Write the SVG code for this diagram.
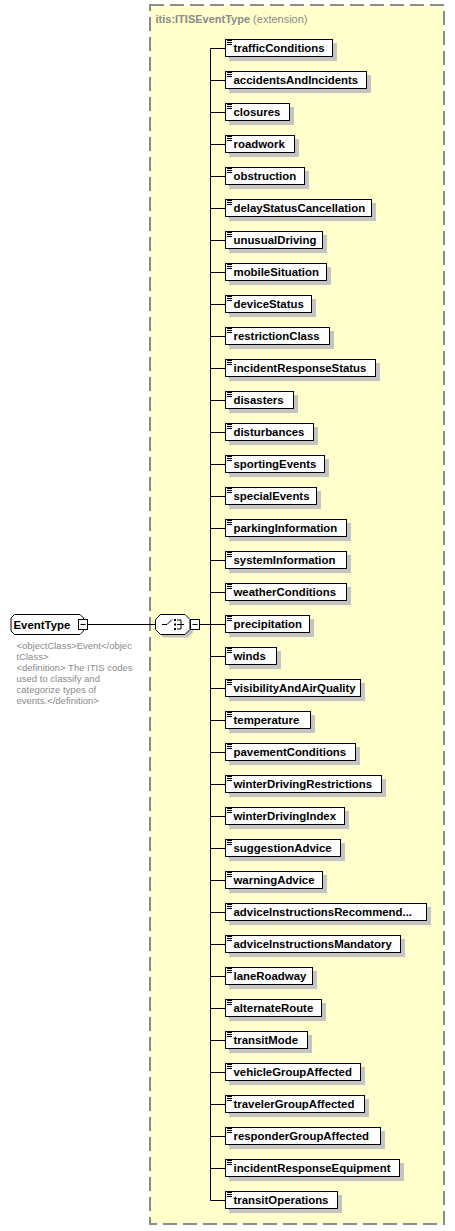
<svg xmlns="http://www.w3.org/2000/svg" xmlns:xlink="http://www.w3.org/1999/xlink" width="455" height="1231" viewBox="0 0 455 1231">
<style>
.lbl{font-family:"Liberation Sans",Arial,sans-serif;font-weight:bold;font-size:11.4px;fill:#000}
.box{fill:#fff;stroke:#000;stroke-width:1}
.shd{fill:#c4c4c4}
.ann{font-family:"Liberation Sans",Arial,sans-serif;font-size:9.5px;fill:#8a8a8a}
.hdr{font-family:"Liberation Sans",Arial,sans-serif;font-size:11px;fill:#8a8a8a}
.con{stroke:#000;stroke-width:1;fill:none}
</style>
<defs>
<path id="ico" d="M2 1.5h5M2 3.5h5M2 5.5h5" stroke="#000" stroke-width="1" fill="none"/>
</defs>
<rect x="150" y="5" width="294" height="1219" fill="#ffffcc" stroke="#8c8c8c" stroke-width="2" stroke-dasharray="14 6"/>
<text x="155.5" y="22.5" class="hdr"><tspan font-weight="bold">itis:ITISEventType</tspan> (extension)</text>

<g id="connectors" class="con">
<path d="M88 624.5H155.5M200 624.5H210.5M210.5 48.5V1200.5"/>
<path d="M210.5 48.5H225M210.5 80.5H225M210.5 112.5H225M210.5 144.5H225M210.5 176.5H225M210.5 208.5H225M210.5 240.5H225M210.5 272.5H225M210.5 304.5H225M210.5 336.5H225M210.5 368.5H225M210.5 400.5H225M210.5 432.5H225M210.5 464.5H225M210.5 496.5H225M210.5 528.5H225M210.5 560.5H225M210.5 592.5H225M210.5 624.5H225M210.5 656.5H225M210.5 688.5H225M210.5 720.5H225M210.5 752.5H225M210.5 784.5H225M210.5 816.5H225M210.5 848.5H225M210.5 880.5H225M210.5 912.5H225M210.5 944.5H225M210.5 976.5H225M210.5 1008.5H225M210.5 1040.5H225M210.5 1072.5H225M210.5 1104.5H225M210.5 1136.5H225M210.5 1168.5H225M210.5 1200.5H225"/>
</g>

<g id="EventType">
<polygon points="14.5,614.5 80,614.5 83.5,618 83.5,631 80,634.5 14.5,634.5 11,631 11,618" class="box"/>
<text x="13.5" y="628.5" class="lbl">EventType</text>
<rect x="78.5" y="619.5" width="9" height="10" class="box"/>
<path d="M80.5 624.5h5" class="con"/>
<text class="ann"><tspan x="16.5" y="648.5">&lt;objectClass&gt;Event&lt;/objec</tspan><tspan x="16.5" y="659.5">tClass&gt;</tspan><tspan x="16.5" y="670.5">&lt;definition&gt; The ITIS codes</tspan><tspan x="16.5" y="681.5">used to classify and</tspan><tspan x="16.5" y="692.5">categorize types of</tspan><tspan x="16.5" y="703.5">events.&lt;/definition&gt;</tspan></text>
</g>

<g id="choice">
<polygon points="163.5,617.5 188,617.5 193,622.5 193,632.5 188,637.5 163.5,637.5 158.5,632.5 158.5,622.5" class="shd"/>
<polygon points="160.5,614.5 185,614.5 190,619.5 190,629.5 185,634.5 160.5,634.5 155.5,629.5 155.5,619.5" class="box"/>
<path d="M162 624.5h5l5-5M177 620h4v9h-4M177 624.5h7" class="con"/>
<rect x="174" y="619" width="2" height="2"/>
<rect x="174" y="623.5" width="2" height="2"/>
<rect x="174" y="628" width="2" height="2"/>
<rect x="190.5" y="619.5" width="9" height="10" class="box"/>
<path d="M192.5 624.5h5" class="con"/>
</g>

<g id="n01" transform="translate(225,39)"><rect x="4" y="4" width="108" height="18" class="shd"/><rect x="0.5" y="0.5" width="107" height="17" class="box"/><use xlink:href="#ico"/><text x="8.5" y="12.5" class="lbl">trafficConditions</text></g>
<g id="n02" transform="translate(225,71)"><rect x="4" y="4" width="142" height="18" class="shd"/><rect x="0.5" y="0.5" width="141" height="17" class="box"/><use xlink:href="#ico"/><text x="8.5" y="12.5" class="lbl">accidentsAndIncidents</text></g>
<g id="n03" transform="translate(225,103)"><rect x="4" y="4" width="65" height="18" class="shd"/><rect x="0.5" y="0.5" width="64" height="17" class="box"/><use xlink:href="#ico"/><text x="8.5" y="12.5" class="lbl">closures</text></g>
<g id="n04" transform="translate(225,135)"><rect x="4" y="4" width="70" height="18" class="shd"/><rect x="0.5" y="0.5" width="69" height="17" class="box"/><use xlink:href="#ico"/><text x="8.5" y="12.5" class="lbl">roadwork</text></g>
<g id="n05" transform="translate(225,167)"><rect x="4" y="4" width="80" height="18" class="shd"/><rect x="0.5" y="0.5" width="79" height="17" class="box"/><use xlink:href="#ico"/><text x="8.5" y="12.5" class="lbl">obstruction</text></g>
<g id="n06" transform="translate(225,199)"><rect x="4" y="4" width="147" height="18" class="shd"/><rect x="0.5" y="0.5" width="146" height="17" class="box"/><use xlink:href="#ico"/><text x="8.5" y="12.5" class="lbl">delayStatusCancellation</text></g>
<g id="n07" transform="translate(225,231)"><rect x="4" y="4" width="98" height="18" class="shd"/><rect x="0.5" y="0.5" width="97" height="17" class="box"/><use xlink:href="#ico"/><text x="8.5" y="12.5" class="lbl">unusualDriving</text></g>
<g id="n08" transform="translate(225,263)"><rect x="4" y="4" width="102" height="18" class="shd"/><rect x="0.5" y="0.5" width="101" height="17" class="box"/><use xlink:href="#ico"/><text x="8.5" y="12.5" class="lbl">mobileSituation</text></g>
<g id="n09" transform="translate(225,295)"><rect x="4" y="4" width="87" height="18" class="shd"/><rect x="0.5" y="0.5" width="86" height="17" class="box"/><use xlink:href="#ico"/><text x="8.5" y="12.5" class="lbl">deviceStatus</text></g>
<g id="n10" transform="translate(225,327)"><rect x="4" y="4" width="105" height="18" class="shd"/><rect x="0.5" y="0.5" width="104" height="17" class="box"/><use xlink:href="#ico"/><text x="8.5" y="12.5" class="lbl">restrictionClass</text></g>
<g id="n11" transform="translate(225,359)"><rect x="4" y="4" width="151" height="18" class="shd"/><rect x="0.5" y="0.5" width="150" height="17" class="box"/><use xlink:href="#ico"/><text x="8.5" y="12.5" class="lbl">incidentResponseStatus</text></g>
<g id="n12" transform="translate(225,391)"><rect x="4" y="4" width="69" height="18" class="shd"/><rect x="0.5" y="0.5" width="68" height="17" class="box"/><use xlink:href="#ico"/><text x="8.5" y="12.5" class="lbl">disasters</text></g>
<g id="n13" transform="translate(225,423)"><rect x="4" y="4" width="89" height="18" class="shd"/><rect x="0.5" y="0.5" width="88" height="17" class="box"/><use xlink:href="#ico"/><text x="8.5" y="12.5" class="lbl">disturbances</text></g>
<g id="n14" transform="translate(225,455)"><rect x="4" y="4" width="100" height="18" class="shd"/><rect x="0.5" y="0.5" width="99" height="17" class="box"/><use xlink:href="#ico"/><text x="8.5" y="12.5" class="lbl">sportingEvents</text></g>
<g id="n15" transform="translate(225,487)"><rect x="4" y="4" width="92" height="18" class="shd"/><rect x="0.5" y="0.5" width="91" height="17" class="box"/><use xlink:href="#ico"/><text x="8.5" y="12.5" class="lbl">specialEvents</text></g>
<g id="n16" transform="translate(225,519)"><rect x="4" y="4" width="122" height="18" class="shd"/><rect x="0.5" y="0.5" width="121" height="17" class="box"/><use xlink:href="#ico"/><text x="8.5" y="12.5" class="lbl">parkingInformation</text></g>
<g id="n17" transform="translate(225,551)"><rect x="4" y="4" width="122" height="18" class="shd"/><rect x="0.5" y="0.5" width="121" height="17" class="box"/><use xlink:href="#ico"/><text x="8.5" y="12.5" class="lbl">systemInformation</text></g>
<g id="n18" transform="translate(225,583)"><rect x="4" y="4" width="122" height="18" class="shd"/><rect x="0.5" y="0.5" width="121" height="17" class="box"/><use xlink:href="#ico"/><text x="8.5" y="12.5" class="lbl">weatherConditions</text></g>
<g id="n19" transform="translate(225,615)"><rect x="4" y="4" width="85" height="18" class="shd"/><rect x="0.5" y="0.5" width="84" height="17" class="box"/><use xlink:href="#ico"/><text x="8.5" y="12.5" class="lbl">precipitation</text></g>
<g id="n20" transform="translate(225,647)"><rect x="4" y="4" width="52" height="18" class="shd"/><rect x="0.5" y="0.5" width="51" height="17" class="box"/><use xlink:href="#ico"/><text x="8.5" y="12.5" class="lbl">winds</text></g>
<g id="n21" transform="translate(225,679)"><rect x="4" y="4" width="136" height="18" class="shd"/><rect x="0.5" y="0.5" width="135" height="17" class="box"/><use xlink:href="#ico"/><text x="8.5" y="12.5" class="lbl">visibilityAndAirQuality</text></g>
<g id="n22" transform="translate(225,711)"><rect x="4" y="4" width="86" height="18" class="shd"/><rect x="0.5" y="0.5" width="85" height="17" class="box"/><use xlink:href="#ico"/><text x="8.5" y="12.5" class="lbl">temperature</text></g>
<g id="n23" transform="translate(225,743)"><rect x="4" y="4" width="131" height="18" class="shd"/><rect x="0.5" y="0.5" width="130" height="17" class="box"/><use xlink:href="#ico"/><text x="8.5" y="12.5" class="lbl">pavementConditions</text></g>
<g id="n24" transform="translate(225,775)"><rect x="4" y="4" width="157" height="18" class="shd"/><rect x="0.5" y="0.5" width="156" height="17" class="box"/><use xlink:href="#ico"/><text x="8.5" y="12.5" class="lbl">winterDrivingRestrictions</text></g>
<g id="n25" transform="translate(225,807)"><rect x="4" y="4" width="120" height="18" class="shd"/><rect x="0.5" y="0.5" width="119" height="17" class="box"/><use xlink:href="#ico"/><text x="8.5" y="12.5" class="lbl">winterDrivingIndex</text></g>
<g id="n26" transform="translate(225,839)"><rect x="4" y="4" width="116" height="18" class="shd"/><rect x="0.5" y="0.5" width="115" height="17" class="box"/><use xlink:href="#ico"/><text x="8.5" y="12.5" class="lbl">suggestionAdvice</text></g>
<g id="n27" transform="translate(225,871)"><rect x="4" y="4" width="98" height="18" class="shd"/><rect x="0.5" y="0.5" width="97" height="17" class="box"/><use xlink:href="#ico"/><text x="8.5" y="12.5" class="lbl">warningAdvice</text></g>
<g id="n28" transform="translate(225,903)"><rect x="4" y="4" width="202" height="18" class="shd"/><rect x="0.5" y="0.5" width="201" height="17" class="box"/><use xlink:href="#ico"/><text x="8.5" y="12.5" class="lbl">adviceInstructionsRecommend...</text></g>
<g id="n29" transform="translate(225,935)"><rect x="4" y="4" width="176" height="18" class="shd"/><rect x="0.5" y="0.5" width="175" height="17" class="box"/><use xlink:href="#ico"/><text x="8.5" y="12.5" class="lbl">adviceInstructionsMandatory</text></g>
<g id="n30" transform="translate(225,967)"><rect x="4" y="4" width="88" height="18" class="shd"/><rect x="0.5" y="0.5" width="87" height="17" class="box"/><use xlink:href="#ico"/><text x="8.5" y="12.5" class="lbl">laneRoadway</text></g>
<g id="n31" transform="translate(225,999)"><rect x="4" y="4" width="97" height="18" class="shd"/><rect x="0.5" y="0.5" width="96" height="17" class="box"/><use xlink:href="#ico"/><text x="8.5" y="12.5" class="lbl">alternateRoute</text></g>
<g id="n32" transform="translate(225,1031)"><rect x="4" y="4" width="83" height="18" class="shd"/><rect x="0.5" y="0.5" width="82" height="17" class="box"/><use xlink:href="#ico"/><text x="8.5" y="12.5" class="lbl">transitMode</text></g>
<g id="n33" transform="translate(225,1063)"><rect x="4" y="4" width="136" height="18" class="shd"/><rect x="0.5" y="0.5" width="135" height="17" class="box"/><use xlink:href="#ico"/><text x="8.5" y="12.5" class="lbl">vehicleGroupAffected</text></g>
<g id="n34" transform="translate(225,1095)"><rect x="4" y="4" width="140" height="18" class="shd"/><rect x="0.5" y="0.5" width="139" height="17" class="box"/><use xlink:href="#ico"/><text x="8.5" y="12.5" class="lbl">travelerGroupAffected</text></g>
<g id="n35" transform="translate(225,1127)"><rect x="4" y="4" width="156" height="18" class="shd"/><rect x="0.5" y="0.5" width="155" height="17" class="box"/><use xlink:href="#ico"/><text x="8.5" y="12.5" class="lbl">responderGroupAffected</text></g>
<g id="n36" transform="translate(225,1159)"><rect x="4" y="4" width="175" height="18" class="shd"/><rect x="0.5" y="0.5" width="174" height="17" class="box"/><use xlink:href="#ico"/><text x="8.5" y="12.5" class="lbl">incidentResponseEquipment</text></g>
<g id="n37" transform="translate(225,1191)"><rect x="4" y="4" width="113" height="18" class="shd"/><rect x="0.5" y="0.5" width="112" height="17" class="box"/><use xlink:href="#ico"/><text x="8.5" y="12.5" class="lbl">transitOperations</text></g>
</svg>
